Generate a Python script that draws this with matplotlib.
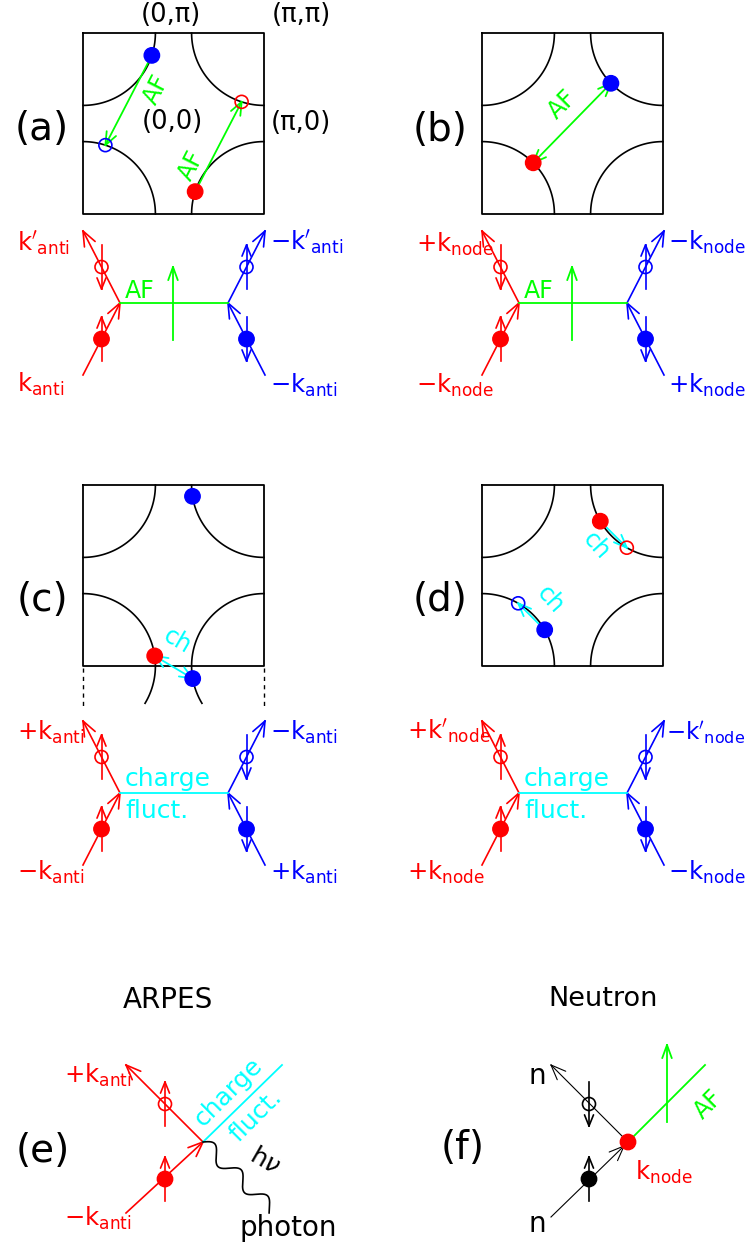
import numpy as np
import matplotlib.pyplot as plt
from matplotlib.patches import Circle

plt.rcParams['font.family'] = 'DejaVu Sans'
plt.rcParams['mathtext.fontset'] = 'dejavusans'

RED, BLUE, GREEN, CYAN, BLACK = '#ff0000', '#0000ff', '#00ff00', '#00ffff', 'k'

# ----------
# BRILLOUIN ZONES (pixel layout, y pointing down)
# ----------
box_side = 181
box_origins = {'a': (83, 33), 'b': (482, 33), 'c': (83, 485), 'd': (482, 485)}
arc_radius = 0.4 * box_side

# Fermi surface points: (panel, corner, angle in deg, colour, filled)
fs_points = [
    ('a', 'tl', 18, BLUE, True), ('a', 'bl', -72, BLUE, False),
    ('a', 'tr', 108, RED, False), ('a', 'br', 198, RED, True),
    ('b', 'tr', 136, BLUE, True), ('b', 'bl', -45, RED, True),
    ('c', 'tr', 171, BLUE, True), ('c', 'bl', -8, RED, True),
    ('c', 'br', 170, BLUE, True),
    ('d', 'tr', 150, RED, True), ('d', 'tr', 120, RED, False),
    ('d', 'bl', -60, BLUE, False), ('d', 'bl', -30, BLUE, True),
]
# scattering arrows: (index from, index to, colour, both heads)
fs_transfers = [(0, 1, GREEN, False), (3, 2, GREEN, False),
                (5, 4, GREEN, True), (7, 8, CYAN, True),
                (9, 10, CYAN, False), (12, 11, CYAN, False)]
# labels on the transfers: (x, y, text, colour, rotation)
fs_texts = [(156, 90, 'AF', GREEN, 63), (191, 166, 'AF', GREEN, 63),
            (562, 105, 'AF', GREEN, 45), (177, 641, 'ch', CYAN, -30),
            (596, 546, 'ch', CYAN, -48), (550, 600, 'ch', CYAN, -48)]
k_labels = [(171, 15, '(0,π)'), (301, 15, '(π,π)'),
            (172, 122, '(0,0)'), (301, 123, '(π,0)')]
panel_tags = [(42, 129, '(a)'), (440, 130, '(b)'), (42, 600, '(c)'),
              (440, 600, '(d)'), (43, 1151, '(e)'), (463, 1148, '(f)')]

# ----------
# SCATTERING DIAGRAMS
# ----------
vertex_left = {'a': (120, 303), 'b': (519, 303), 'c': (120, 793), 'd': (519, 793)}
vertex_gap = 108
leg = (37, 72)
mediator = {'a': GREEN, 'b': GREEN, 'c': CYAN, 'd': CYAN}
# spin direction (+1 up, -1 down): red open, red filled, blue open, blue filled
spins = {'a': (-1, 1, 1, -1), 'b': (-1, 1, 1, -1),
         'c': (1, 1, -1, -1), 'd': (1, 1, -1, -1)}
diag_labels = [
    (17, 252, r"$\mathrm{k'_{anti}}$", RED), (17, 392, r"$\mathrm{k_{anti}}$", RED),
    (270, 251, r"$\mathrm{-k'_{anti}}$", BLUE), (270, 393, r"$\mathrm{-k_{anti}}$", BLUE),
    (416, 252, r"$\mathrm{+k_{node}}$", RED), (416, 393, r"$\mathrm{-k_{node}}$", RED),
    (668, 250, r"$\mathrm{-k_{node}}$", BLUE), (668, 393, r"$\mathrm{+k_{node}}$", BLUE),
    (17, 740, r"$\mathrm{+k_{anti}}$", RED), (17, 880, r"$\mathrm{-k_{anti}}$", RED),
    (270, 740, r"$\mathrm{-k_{anti}}$", BLUE), (270, 880, r"$\mathrm{+k_{anti}}$", BLUE),
    (407, 740, r"$\mathrm{+k'_{node}}$", RED), (407, 880, r"$\mathrm{+k_{node}}$", RED),
    (666, 740, r"$\mathrm{-k'_{node}}$", BLUE), (668, 880, r"$\mathrm{-k_{node}}$", BLUE),
    (64, 1083, r"$\mathrm{+k_{anti}}$", RED), (64, 1226, r"$\mathrm{-k_{anti}}$", RED),
    (635, 1180, r"$\mathrm{k_{node}}$", RED),
]
label_size = 17.5
narrow_size = 16.5   # widest label at the right edge

fig = plt.figure(figsize=(7.49, 12.49), dpi=100)
ax = fig.add_axes([0, 0, 1, 1])
ax.set_xlim(0, 749)
ax.set_ylim(1249, 0)
ax.axis('off')


def head(x0, y0, x1, y1, color, lw, hl, ang):
    d = np.array([x1 - x0, y1 - y0], float)
    d /= np.hypot(*d)
    for s in (1, -1):
        a = np.radians(s * ang)
        r = np.array([d[0] * np.cos(a) - d[1] * np.sin(a),
                      d[0] * np.sin(a) + d[1] * np.cos(a)])
        ax.plot([x1, x1 - hl * r[0]], [y1, y1 - hl * r[1]], color=color, lw=lw,
                solid_capstyle='round')


def arrow(x0, y0, x1, y1, color, lw=1.2, hl=16, ang=22, both=False):
    ax.plot([x0, x1], [y0, y1], color=color, lw=lw)
    head(x0, y0, x1, y1, color, lw, hl, ang)
    if both:
        head(x1, y1, x0, y0, color, lw, hl, ang)


def dot(x, y, color, filled, r=6.5):
    if filled:
        ax.add_patch(Circle((x, y), r + 1.2, color=color, zorder=5))
    else:
        ax.add_patch(Circle((x, y), r, fill=False, ec=color, lw=1.2, zorder=5))


def spin(x, y, s, color, lw=1.2):
    arrow(x, y + 22 * s, x, y - 22 * s, color, lw=lw, hl=12, ang=22)


def corner_center(p, c):
    x0, y0 = box_origins[p]
    return (x0 + (box_side if c[1] == 'r' else 0),
            y0 + (box_side if c[0] == 'b' else 0))


arc_ranges = {'tl': (0, 90), 'tr': (90, 180), 'bl': (-90, 0), 'br': (180, 270)}

# zones
for p, (x0, y0) in box_origins.items():
    ax.plot([x0, x0 + box_side, x0 + box_side, x0, x0],
            [y0, y0, y0 + box_side, y0 + box_side, y0], color=BLACK, lw=1.3)
    for c, (t0, t1) in arc_ranges.items():
        if p == 'c' and c == 'bl':
            t1 = 31
        if p == 'c' and c == 'br':
            t0 = 149
        t = np.radians(np.linspace(t0, t1, 80))
        cx, cy = corner_center(p, c)
        ax.plot(cx + arc_radius * np.cos(t), cy + arc_radius * np.sin(t),
                color=BLACK, lw=1.2)

x0, y0 = box_origins['c']
for xx in (x0, x0 + box_side):
    ax.plot([xx, xx], [y0 + box_side + 2, y0 + box_side + 42], color=BLACK,
            lw=1.0, ls=(0, (3, 3)))

pts = []
for p, c, ang, col, filled in fs_points:
    cx, cy = corner_center(p, c)
    t = np.radians(ang)
    pts.append((cx + arc_radius * np.cos(t), cy + arc_radius * np.sin(t)))

for i, j, col, both in fs_transfers:
    arrow(*pts[i], *pts[j], col, lw=1.3, hl=14, ang=22, both=both)

for (p, c, ang, col, filled), (x, y) in zip(fs_points, pts):
    dot(x, y, col, filled)

for x, y, s, col, rot in fs_texts:
    ax.text(x, y, s, color=col, fontsize=17, rotation=rot,
            ha='center', va='center', rotation_mode='anchor')

for x, y, s in k_labels:
    ax.text(x, y, s, fontsize=18.5, ha='center', va='center')

for x, y, s in panel_tags:
    ax.text(x, y, s, fontsize=28, ha='center', va='center')

# scattering diagrams
for p, (vx, vy) in vertex_left.items():
    wx = vx + vertex_gap
    lx, ly = leg
    so = spins[p]
    # red legs
    arrow(vx - lx, vy + ly, vx, vy, RED)
    arrow(vx, vy, vx - lx, vy - ly, RED)
    dot(vx - lx / 2, vy - ly / 2, RED, False)
    dot(vx - lx / 2, vy + ly / 2, RED, True)
    spin(vx - lx / 2, vy - ly / 2, so[0], RED)
    spin(vx - lx / 2, vy + ly / 2, so[1], RED)
    # blue legs
    arrow(wx + lx, vy + ly, wx, vy, BLUE)
    arrow(wx, vy, wx + lx, vy - ly, BLUE)
    dot(wx + lx / 2, vy - ly / 2, BLUE, False)
    dot(wx + lx / 2, vy + ly / 2, BLUE, True)
    spin(wx + lx / 2, vy - ly / 2, so[2], BLUE)
    spin(wx + lx / 2, vy + ly / 2, so[3], BLUE)
    # mediator
    col = mediator[p]
    ax.plot([vx, wx], [vy, vy], color=col, lw=1.3)
    if col == GREEN:
        mx = vx + 53
        arrow(mx, vy + 37, mx, vy - 36, GREEN, lw=1.3, hl=14, ang=20)
        ax.text(vx + 5, vy - 5, 'AF', color=GREEN, fontsize=17,
                ha='left', va='baseline')
    else:
        ax.text(vx + 5, vy - 7, 'charge', color=CYAN, fontsize=18,
                ha='left', va='baseline')
        ax.text(vx + 5, vy + 25, 'fluct.', color=CYAN, fontsize=18,
                ha='left', va='baseline')

for x, y, s, col in diag_labels:
    size = narrow_size if (x > 660 and "'" in s) else label_size
    ax.text(x, y, s, color=col, fontsize=size, ha='left', va='baseline')

# ----------
# (e) ARPES
# ----------
ex, ey = 203, 1142
ax.text(168, 1000, 'ARPES', fontsize=20, ha='center', va='center')
arrow(ex - 77, ey + 71, ex, ey, RED)
arrow(ex, ey, ex - 77, ey - 77, RED)
dot(165, 1104, RED, False)
dot(165, 1179, RED, True)
spin(165, 1104, 1, RED)
spin(165, 1179, 1, RED)
ax.plot([ex, 282], [ey, 1065], color=CYAN, lw=1.3)
ax.text(229, 1092, 'charge', color=CYAN, fontsize=18, rotation=45,
        ha='center', va='center', rotation_mode='anchor')
ax.text(256, 1116, 'fluct.', color=CYAN, fontsize=18, rotation=45,
        ha='center', va='center', rotation_mode='anchor')
u = np.array([272 - ex, 1210 - ey], float)
L = np.hypot(*u)
u /= L
n = np.array([u[1], -u[0]])
s = np.linspace(0, L, 300)
w = 7 * np.sin(2 * np.pi * s / (L / 2.6))
ax.plot(ex + s * u[0] + w * n[0], ey + s * u[1] + w * n[1], color=BLACK, lw=1.2)
ax.text(265, 1161, r'h$\nu$', fontsize=18, rotation=-30,
        ha='center', va='center', rotation_mode='anchor')
ax.text(240, 1228, 'photon', fontsize=20, ha='left', va='center')

# ----------
# (f) Neutron
# ----------
fx, fy = 628, 1142
ax.text(603, 999, 'Neutron', fontsize=19.5, ha='center', va='center')
arrow(551, 1217, fx - 4, fy + 4, BLACK, lw=0.8)
arrow(fx, fy, 551, 1065, BLACK, lw=0.8)
dot(589, 1104, BLACK, False)
dot(589, 1179, BLACK, True)
spin(589, 1104, -1, BLACK)
spin(589, 1179, 1, BLACK)
ax.plot([fx, 705], [fy, 1065], color=GREEN, lw=1.3)
arrow(667, 1122, 667, 1045, GREEN, lw=1.3, hl=14, ang=20)
ax.text(708, 1105, 'AF', color=GREEN, fontsize=17, rotation=45,
        ha='center', va='center', rotation_mode='anchor')
dot(fx, fy, RED, True)
ax.text(537, 1076, 'n', fontsize=20, ha='center', va='center')
ax.text(537, 1224, 'n', fontsize=20, ha='center', va='center')

fig.savefig('out.png', dpi=100)
